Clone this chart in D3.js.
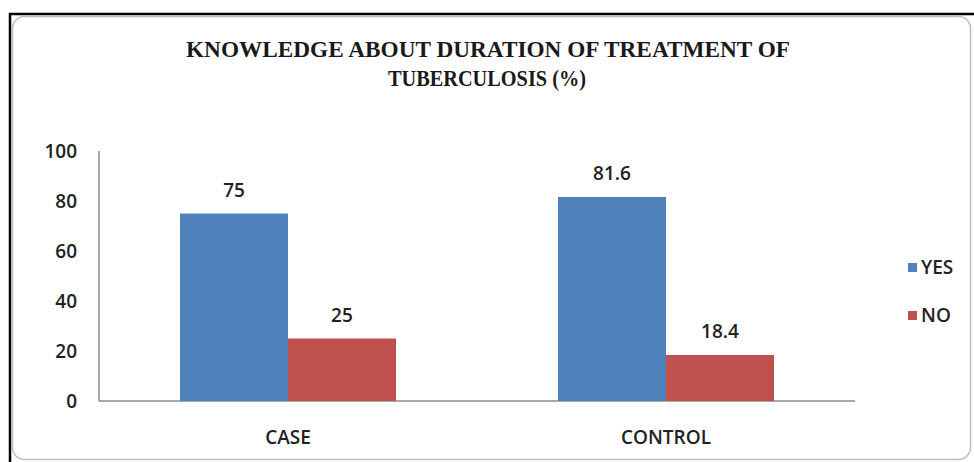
<!DOCTYPE html>
<html lang="en">
  <head>
    <meta charset="UTF-8" />
    <title>Knowledge about duration of treatment</title>
    <style>
      body { margin: 0; background: #fff; }
      svg { display: block; }
    </style>
  </head>
  <body>
    <script src="https://cdn.jsdelivr.net/npm/d3@7"></script>
    <script>
      var groups = ["CASE", "CONTROL"];
      var series = ["YES", "NO"];
      var yesValues = [75, 81.6];
      var noValues = [25, 18.4];
      var yTicks = [0, 20, 40, 60, 80, 100];
      var colors = ["#4F81BD", "#C0504D"];

      var w = 974, h = 462;
      var margin = { top: 151, left: 99, right: 119, bottom: 61 };
      var labelFont = "Open Sans, sans-serif";

      var svg = d3.select("body").append("svg")
                  .attr("width", w)
                  .attr("height", h);

      // frame: black top/left line, grey rounded box inside
      svg.append("path")
         .attr("d", "M10,462 V14 H974")
         .attr("fill", "none")
         .attr("stroke", "#000")
         .attr("stroke-width", 2.5);
      svg.append("rect")
         .attr("x", 12.5).attr("y", 16.5)
         .attr("width", 958).attr("height", 443)
         .attr("rx", 12)
         .attr("fill", "none")
         .attr("stroke", "#bdbdbd")
         .attr("stroke-width", 1.5);

      // title (condensed serif)
      var title = svg.append("text")
         .attr("text-anchor", "middle")
         .attr("font-family", "Liberation Serif, serif")
         .attr("font-weight", "bold")
         .attr("font-size", 23)
         .attr("fill", "#1a1a1a");
      title.append("tspan").attr("x", 488).attr("y", 57)
           .attr("textLength", 604).attr("lengthAdjust", "spacingAndGlyphs")
           .text("KNOWLEDGE ABOUT DURATION OF TREATMENT OF");
      title.append("tspan").attr("x", 487).attr("y", 86)
           .attr("textLength", 198).attr("lengthAdjust", "spacingAndGlyphs")
           .text("TUBERCULOSIS (%)");

      var data = groups.map(function(g, i) {
        return { group: g, values: [yesValues[i], noValues[i]] };
      });

      var x0 = d3.scaleBand()
                 .domain(groups)
                 .range([margin.left, w - margin.right])
                 .paddingInner(0.4286)
                 .paddingOuter(0.2143);

      var x1 = d3.scaleBand()
                 .domain(series)
                 .range([0, x0.bandwidth()]);

      var yScale = d3.scaleLinear()
                     .domain([0, 100])
                     .range([h - margin.bottom, margin.top]);

      var plotLeft = margin.left;
      var plotRight = w - margin.right;

      // axes lines
      svg.append("line")
         .attr("x1", plotLeft).attr("x2", plotLeft)
         .attr("y1", yScale(100)).attr("y2", yScale(0))
         .attr("stroke", "#8c8c8c").attr("stroke-width", 1.5);
      svg.append("line")
         .attr("x1", plotLeft).attr("x2", plotRight)
         .attr("y1", yScale(0)).attr("y2", yScale(0))
         .attr("stroke", "#8c8c8c").attr("stroke-width", 1.5);

      // y tick labels
      svg.selectAll(".ytick")
         .data(yTicks)
         .enter()
         .append("text")
         .attr("class", "ytick")
         .attr("x", 77)
         .attr("y", function(d) { return yScale(d); })
         .attr("dy", "0.35em")
         .attr("text-anchor", "end")
         .attr("font-family", labelFont)
         .attr("font-weight", 600)
         .attr("font-size", 19)
         .attr("fill", "#222")
         .text(function(d) { return d; });

      // bars
      var g = svg.selectAll(".grp")
                 .data(data)
                 .enter()
                 .append("g")
                 .attr("class", "grp")
                 .attr("transform", function(d) { return "translate(" + x0(d.group) + ",0)"; });

      g.selectAll("rect")
       .data(function(d) { return d.values; })
       .enter()
       .append("rect")
       .attr("x", function(d, i) { return x1(series[i]); })
       .attr("y", function(d) { return yScale(d); })
       .attr("width", x1.bandwidth())
       .attr("height", function(d) { return yScale(0) - yScale(d); })
       .attr("fill", function(d, i) { return colors[i]; });

      g.selectAll(".val")
       .data(function(d) { return d.values; })
       .enter()
       .append("text")
       .attr("class", "val")
       .attr("x", function(d, i) { return x1(series[i]) + x1.bandwidth() / 2; })
       .attr("y", function(d) { return yScale(d) - 17; })
       .attr("text-anchor", "middle")
       .attr("font-family", labelFont)
       .attr("font-weight", 600)
       .attr("font-size", 19)
       .attr("fill", "#222")
       .text(function(d) { return d; });

      // category labels
      svg.selectAll(".xlab")
         .data(groups)
         .enter()
         .append("text")
         .attr("class", "xlab")
         .attr("x", function(d) { return x0(d) + x0.bandwidth() / 2; })
         .attr("y", yScale(0) + 43)
         .attr("text-anchor", "middle")
         .attr("font-family", labelFont)
         .attr("font-weight", 600)
         .attr("font-size", 19)
         .attr("fill", "#222")
         .text(function(d) { return d; });

      // legend
      var legend = svg.selectAll(".leg")
                      .data(series)
                      .enter()
                      .append("g")
                      .attr("class", "leg")
                      .attr("transform", function(d, i) { return "translate(908," + (267 + i * 48) + ")"; });
      legend.append("rect")
            .attr("x", 0).attr("y", -4)
            .attr("width", 9).attr("height", 9)
            .attr("fill", function(d, i) { return colors[i]; });
      legend.append("text")
            .attr("x", 13).attr("y", 0)
            .attr("dy", "0.35em")
            .attr("font-family", labelFont)
            .attr("font-weight", 600)
            .attr("font-size", 19)
            .attr("fill", "#222")
            .text(function(d) { return d; });
    </script>
  </body>
</html>
